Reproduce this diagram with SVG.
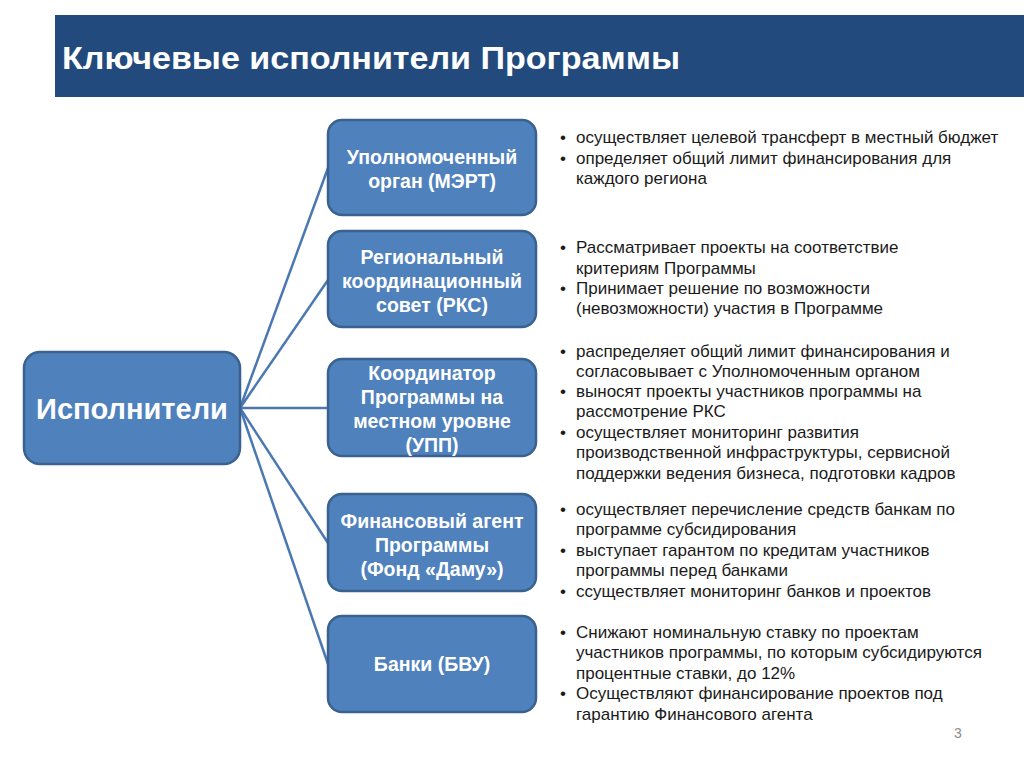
<svg xmlns="http://www.w3.org/2000/svg" width="1024" height="768" viewBox="0 0 1024 768">
<style>
.node{fill:#4f81bd;stroke:#3a6290;stroke-width:2.5}
.nt{font-family:"Liberation Sans",Arial,sans-serif;font-weight:bold;fill:#ffffff;font-size:19.5px;text-anchor:middle}
.big{font-size:29px}
.bt{font-family:"Liberation Sans",Arial,sans-serif;fill:#1a1a1a;font-size:17px}
.conn{stroke:#4a78b0;stroke-width:2.5;fill:none}
</style>
<rect width="1024" height="768" fill="#ffffff"/>
<g id="header">
<rect x="55" y="15" width="969" height="82" fill="#224a7c"/>
<text x="62" y="69" font-family="'Liberation Sans',Arial,sans-serif" font-weight="bold" font-size="31" fill="#ffffff" textLength="618" lengthAdjust="spacingAndGlyphs">Ключевые исполнители Программы</text>
</g>
<g id="connectors">
<line class="conn" x1="240" y1="408" x2="328" y2="168"/>
<line class="conn" x1="240" y1="408" x2="328" y2="280"/>
<line class="conn" x1="240" y1="408" x2="328" y2="408"/>
<line class="conn" x1="240" y1="408" x2="328" y2="543"/>
<line class="conn" x1="240" y1="408" x2="328" y2="664"/>
</g>
<g id="n0">
<rect class="node" x="24" y="352" width="216" height="112" rx="16"/>
<text class="nt big" x="132" y="419">Исполнители</text>
</g>
<g id="n1">
<rect class="node" x="328" y="120" width="208" height="95" rx="14"/>
<text class="nt" x="432" y="164">Уполномоченный</text>
<text class="nt" x="432" y="188">орган (МЭРТ)</text>
</g>
<g id="n2">
<rect class="node" x="328" y="231" width="208" height="96" rx="14"/>
<text class="nt" x="432" y="264">Региональный</text>
<text class="nt" x="432" y="288">координационный</text>
<text class="nt" x="432" y="312">совет (РКС)</text>
</g>
<g id="n3">
<rect class="node" x="328" y="359" width="208" height="97" rx="14"/>
<text class="nt" x="432" y="380">Координатор</text>
<text class="nt" x="432" y="404">Программы на</text>
<text class="nt" x="432" y="428">местном уровне</text>
<text class="nt" x="432" y="452">(УПП)</text>
</g>
<g id="n4">
<rect class="node" x="328" y="494" width="208" height="97" rx="14"/>
<text class="nt" x="432" y="528">Финансовый агент</text>
<text class="nt" x="432" y="552">Программы</text>
<text class="nt" x="432" y="576">(Фонд «Даму»)</text>
</g>
<g id="n5">
<rect class="node" x="328" y="616" width="208" height="96" rx="14"/>
<text class="nt" x="432" y="671">Банки (БВУ)</text>
</g>
<g id="t1" class="bt">
<text x="560" y="143">•</text><text x="576" y="143">осуществляет целевой трансферт в местный бюджет</text>
<text x="560" y="164">•</text><text x="576" y="164">определяет общий лимит финансирования для</text>
<text x="576" y="184">каждого региона</text>
</g>
<g id="t2" class="bt">
<text x="560" y="253">•</text><text x="576" y="253">Рассматривает проекты на соответствие</text>
<text x="576" y="274">критериям Программы</text>
<text x="560" y="294">•</text><text x="576" y="294">Принимает решение по возможности</text>
<text x="576" y="314">(невозможности) участия в Программе</text>
</g>
<g id="t3" class="bt">
<text x="560" y="357">•</text><text x="576" y="357">распределяет общий лимит финансирования и</text>
<text x="576" y="377">согласовывает с Уполномоченным органом</text>
<text x="560" y="397">•</text><text x="576" y="397">выносят проекты участников программы на</text>
<text x="576" y="417">рассмотрение РКС</text>
<text x="560" y="438">•</text><text x="576" y="438">осуществляет мониторинг развития</text>
<text x="576" y="458">производственной инфраструктуры, сервисной</text>
<text x="576" y="479">поддержки ведения бизнеса, подготовки кадров</text>
</g>
<g id="t4" class="bt">
<text x="560" y="515">•</text><text x="576" y="515">осуществляет перечисление средств банкам по</text>
<text x="576" y="535">программе субсидирования</text>
<text x="560" y="556">•</text><text x="576" y="556">выступает гарантом по кредитам участников</text>
<text x="576" y="576">программы перед банками</text>
<text x="560" y="597">•</text><text x="576" y="597">ссуществляет мониторинг банков и проектов</text>
</g>
<g id="t5" class="bt">
<text x="560" y="638">•</text><text x="576" y="638">Снижают номинальную ставку по проектам</text>
<text x="576" y="658">участников программы, по которым субсидируются</text>
<text x="576" y="679">процентные ставки, до 12%</text>
<text x="560" y="699">•</text><text x="576" y="699">Осуществляют финансирование проектов под</text>
<text x="576" y="720">гарантию Финансового агента</text>
</g>
<text x="958" y="738" font-family="'Liberation Sans',Arial,sans-serif" font-size="14" fill="#8c8c8c" text-anchor="middle">3</text>
</svg>
